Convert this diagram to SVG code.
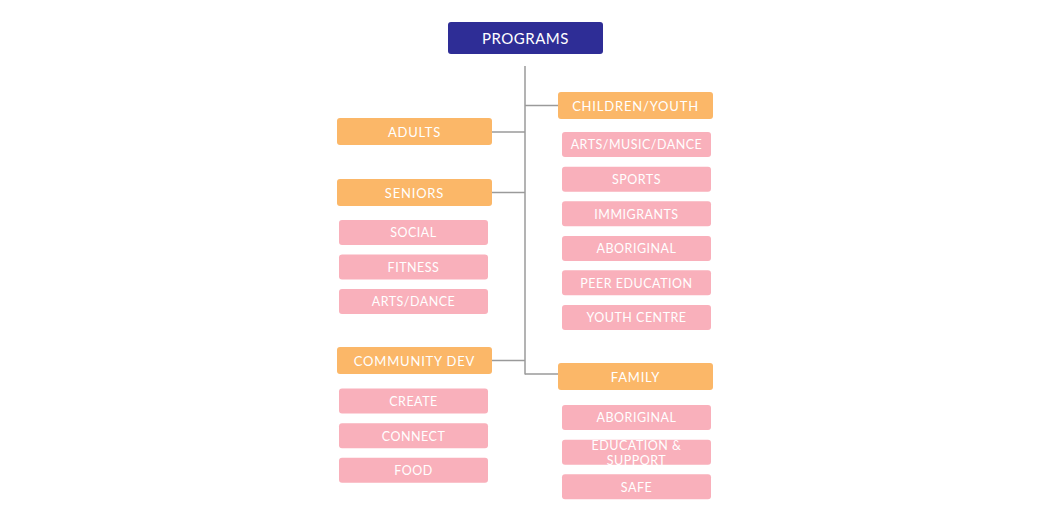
<svg xmlns="http://www.w3.org/2000/svg" width="1050" height="531" viewBox="0 0 1050 531">
<style>
text{font-family:Lato,"Open Sans","Liberation Sans",sans-serif;fill:#fff;text-anchor:middle}
.root rect{fill:#2e2d96}
.cat rect{fill:#fbb768}
.sub rect{fill:#f9b0bb}
.root text{font-size:15px;letter-spacing:0.5px}
.cat text{font-size:13px;letter-spacing:0.8px}
.sub text{font-size:12.5px;letter-spacing:0.5px}
#connectors line{stroke:#9a9a9a;stroke-width:1.5}
</style>
<rect width="1050" height="531" fill="#fff"/>
<g id="connectors">
<line x1="525" y1="66" x2="525" y2="374.5"/>
<line x1="525" y1="105.5" x2="558" y2="105.5"/>
<line x1="492" y1="132" x2="525" y2="132"/>
<line x1="492" y1="192.5" x2="525" y2="192.5"/>
<line x1="492" y1="360.5" x2="525" y2="360.5"/>
<line x1="525" y1="374" x2="558" y2="374"/>
</g>
<g id="programs" class="root"><rect x="448" y="22" width="155" height="32" rx="3"/><text x="525.5" y="43.5">PROGRAMS</text></g>
<g id="children-youth" class="cat"><rect x="558" y="92" width="155" height="27" rx="3"/><text x="635.5" y="110.5">CHILDREN/YOUTH</text></g>
<g id="adults" class="cat"><rect x="337" y="118" width="155" height="27" rx="3"/><text x="414.5" y="136.5">ADULTS</text></g>
<g id="seniors" class="cat"><rect x="337" y="179" width="155" height="27" rx="3"/><text x="414.5" y="197.5">SENIORS</text></g>
<g id="community-dev" class="cat"><rect x="337" y="347" width="155" height="27" rx="3"/><text x="414.5" y="365.5">COMMUNITY DEV</text></g>
<g id="family" class="cat"><rect x="558" y="363" width="155" height="27" rx="3"/><text x="635.5" y="381.5">FAMILY</text></g>
<g id="social" class="sub"><rect x="339" y="220" width="149" height="25" rx="3"/><text x="413.5" y="237.3">SOCIAL</text></g>
<g id="fitness" class="sub"><rect x="339" y="254.5" width="149" height="25" rx="3"/><text x="413.5" y="271.8">FITNESS</text></g>
<g id="arts-dance" class="sub"><rect x="339" y="289" width="149" height="25" rx="3"/><text x="413.5" y="306.3">ARTS/DANCE</text></g>
<g id="create" class="sub"><rect x="339" y="388.5" width="149" height="25" rx="3"/><text x="413.5" y="405.8">CREATE</text></g>
<g id="connect" class="sub"><rect x="339" y="423.3" width="149" height="25" rx="3"/><text x="413.5" y="440.6">CONNECT</text></g>
<g id="food" class="sub"><rect x="339" y="457.7" width="149" height="25" rx="3"/><text x="413.5" y="475">FOOD</text></g>
<g id="arts-music-dance" class="sub"><rect x="562" y="132" width="149" height="25" rx="3"/><text x="636.5" y="149.3">ARTS/MUSIC/DANCE</text></g>
<g id="sports" class="sub"><rect x="562" y="166.7" width="149" height="25" rx="3"/><text x="636.5" y="184">SPORTS</text></g>
<g id="immigrants" class="sub"><rect x="562" y="201.3" width="149" height="25" rx="3"/><text x="636.5" y="218.6">IMMIGRANTS</text></g>
<g id="aboriginal-youth" class="sub"><rect x="562" y="236" width="149" height="25" rx="3"/><text x="636.5" y="253.3">ABORIGINAL</text></g>
<g id="peer-education" class="sub"><rect x="562" y="270.3" width="149" height="25" rx="3"/><text x="636.5" y="287.6">PEER EDUCATION</text></g>
<g id="youth-centre" class="sub"><rect x="562" y="305" width="149" height="25" rx="3"/><text x="636.5" y="322.3">YOUTH CENTRE</text></g>
<g id="aboriginal-family" class="sub"><rect x="562" y="405" width="149" height="25" rx="3"/><text x="636.5" y="422.3">ABORIGINAL</text></g>
<g id="education-support" class="sub"><rect x="562" y="439.7" width="149" height="25" rx="3"/><text x="636.5" y="449.8">EDUCATION &amp;</text><text x="636.5" y="464.5">SUPPORT</text></g>
<g id="safe" class="sub"><rect x="562" y="474.3" width="149" height="25" rx="3"/><text x="636.5" y="491.6">SAFE</text></g>
</svg>
